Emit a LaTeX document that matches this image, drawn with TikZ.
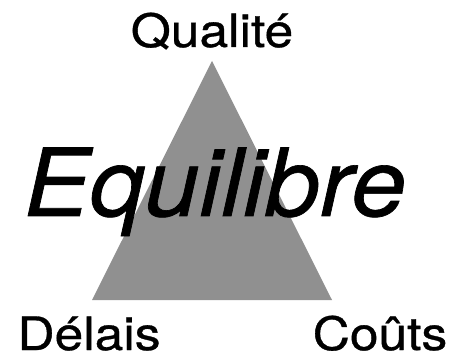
\documentclass[tikz,border=0pt]{standalone}
\usepackage{fontspec}
\setmainfont{TeX Gyre Heros}
\newfontfamily\heavyfont{TeX Gyre Heros}[FakeBold=0.7]
\usepackage{tikz}
\usetikzlibrary{positioning}
\definecolor{trigray}{HTML}{909090}

\begin{document}
\begin{tikzpicture}[x=1pt, y=1pt,
  lbl/.style={anchor=base, inner sep=0pt, xscale=1.12, transform shape,
    font=\heavyfont\fontsize{46}{46}\selectfont},
  big/.style={anchor=base, inner sep=0pt, xscale=1.05, transform shape,
    font=\heavyfont\fontsize{94}{94}\selectfont\itshape}]
\useasboundingbox (0,0) rectangle (455,359);
% the triangle of the three constraints
\fill[trigray] (92,59) -- (332,59) -- (212,298) -- cycle;
% corner labels
\node[lbl] (qual) at (212,312) {Qualité};
\node[lbl] (del) at (89,9) {Délais};
\node[lbl] (cout) at (380,9) {Coûts};
% word across the middle
\node[big] (equi) at (215,143) {Equilibre};
\end{tikzpicture}
\end{document}
